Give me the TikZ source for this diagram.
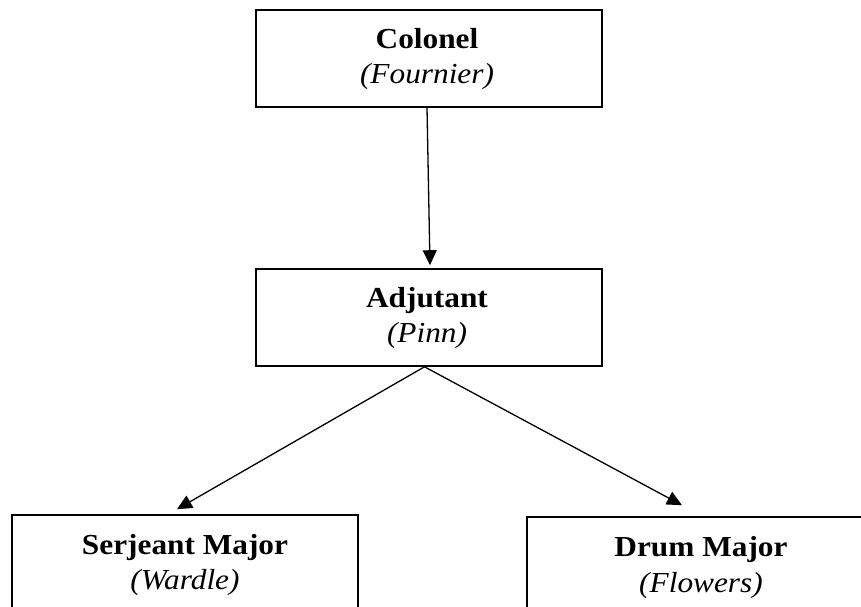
\documentclass[tikz,border=0pt]{standalone}
\usepackage{fontspec}
\setmainfont{Liberation Serif}[FakeStretch=1.08]
\usetikzlibrary{arrows.meta,calc}
\tikzset{
  box/.style={draw=black, line width=1.6pt, rectangle, minimum width=346pt, minimum height=97pt, inner sep=0pt},
  ttl/.style={anchor=base, inner sep=0pt, font=\fontsize{29}{35}\selectfont\bfseries},
  nm/.style={anchor=base, inner sep=0pt, font=\fontsize{29}{35}\selectfont\itshape},
  conn/.style={line width=1.3pt, -{Triangle[width=14pt,length=15pt]}}
}
\begin{document}
\begin{tikzpicture}[x=1pt,y=-1pt]
\clip (0,0) rectangle (861,606);
\fill[white] (0,0) rectangle (861,606);
% boxes
\node[box] (col) at (429,58.5) {};
\node[box] (adj) at (429,317.5) {};
\node[box] (sm)  at (185,563.5) {};
\node[box, minimum width=348pt] (dm) at (701,565.5) {};
% texts
\node[ttl] (colt) at ($(col.north)+(-2,39)$) {Colonel};
\node[nm]  (coln) at ($(col.north)+(-2,74)$) {(Fournier)};
\node[ttl] (adjt) at ($(adj.north)+(-2,39)$) {Adjutant};
\node[nm]  (adjn) at ($(adj.north)+(-2,74)$) {(Pinn)};
\node[ttl] (smt)  at ($(sm.north)+(0,40)$) {Serjeant Major};
\node[nm]  (smn)  at ($(sm.north)+(0,75)$) {(Wardle)};
\node[ttl] (dmt)  at ($(dm.north)+(0,40)$) {Drum Major};
\node[nm]  (dmn)  at ($(dm.north)+(0,76)$) {(Flowers)};
% connectors
\draw[conn] ($(col.south)+(-2,0)$) -- ($(adj.north)+(1,-3)$);
\draw[conn] ($(adj.south)+(-4.5,0)$) -- ($(sm.north)+(-8,-5)$);
\draw[conn] ($(adj.south)+(-4.5,0)$) -- ($(dm.north)+(-19,-11)$);
\end{tikzpicture}
\end{document}
